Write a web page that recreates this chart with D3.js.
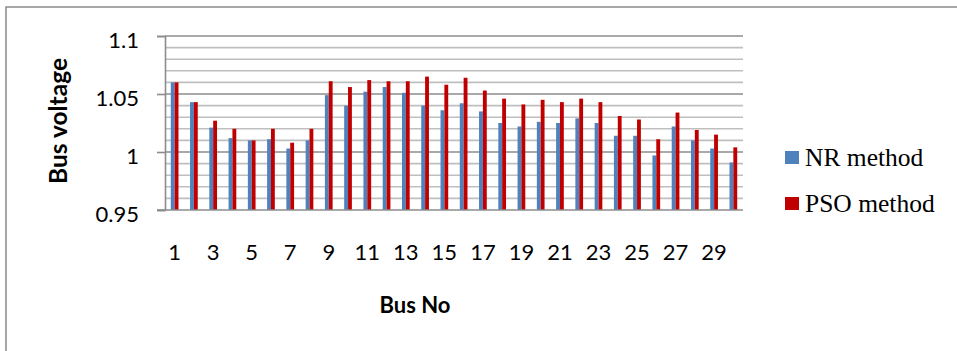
<!DOCTYPE html>
<html>
<head>
<meta charset="utf-8">
<script src="https://cdn.jsdelivr.net/npm/d3@7"></script>
<style>
  html, body { margin: 0; padding: 0; background: #ffffff; }
  svg { display: block; }
  .sans { font-family: Lato, "Open Sans", sans-serif; }
  .serif { font-family: "Liberation Serif", "DejaVu Serif", serif; }
</style>
</head>
<body>
<svg id="chart" width="957" height="351"></svg>
<script>
// Bus numbers of the 30-bus system
const buses = [1, 2, 3, 4, 5, 6, 7, 8, 9, 10, 11, 12, 13, 14, 15,
               16, 17, 18, 19, 20, 21, 22, 23, 24, 25, 26, 27, 28, 29, 30];

// Bus voltage magnitudes (p.u.) from the Newton-Raphson load flow
const nrVoltage = [1.060, 1.043, 1.021, 1.012, 1.010, 1.011, 1.003, 1.010, 1.049, 1.040,
                   1.052, 1.056, 1.051, 1.040, 1.036, 1.042, 1.035, 1.025, 1.022, 1.026,
                   1.025, 1.029, 1.025, 1.014, 1.014, 0.997, 1.022, 1.010, 1.003, 0.991];

// Bus voltage magnitudes (p.u.) after PSO optimisation
const psoVoltage = [1.060, 1.043, 1.027, 1.020, 1.010, 1.020, 1.008, 1.020, 1.061, 1.056,
                    1.062, 1.061, 1.061, 1.065, 1.058, 1.064, 1.053, 1.046, 1.041, 1.045,
                    1.043, 1.046, 1.043, 1.031, 1.028, 1.011, 1.034, 1.019, 1.015, 1.004];

const seriesNames = ["NR method", "PSO method"];
const seriesColors = ["#4f81bd", "#c00000"];

// Axis labels
const yTickValues = [0.95, 1, 1.05, 1.1];
const yTickLabels = ["0.95", "1", "1.05", "1.1"];
const xTickValues = [1, 3, 5, 7, 9, 11, 13, 15, 17, 19, 21, 23, 25, 27, 29];
const xTitle = "Bus No";
const yTitle = "Bus voltage";

const series = [nrVoltage, psoVoltage];

const svg = d3.select("#chart");

// outer chart frame
svg.append("rect")
  .attr("x", 6).attr("y", 7)
  .attr("width", 1000).attr("height", 400)
  .attr("fill", "none")
  .attr("stroke", "#8a8a8a")
  .attr("stroke-width", 1.5);

const plot = { left: 165, right: 743, top: 36, bottom: 210 };

const y = d3.scaleLinear().domain([0.95, 1.1]).range([plot.bottom, plot.top]);
const x = d3.scaleBand().domain(buses).range([plot.left, plot.right]).padding(0);

// the pair of bars sits in the middle 40% of each band
const groupWidth = x.bandwidth() * 0.4;
const xs = d3.scaleBand().domain(d3.range(series.length)).range([0, groupWidth]);

// horizontal gridlines every 0.01, darker at the labelled values
const gridValues = y.ticks(15);
const isMajor = v => yTickValues.some(t => Math.abs(t - v) < 1e-9);
svg.append("g")
  .selectAll("line")
  .data(gridValues.filter(v => v > 0.9501))
  .join("line")
  .attr("x1", plot.left)
  .attr("x2", plot.right)
  .attr("y1", d => y(d))
  .attr("y2", d => y(d))
  .attr("stroke", d => isMajor(d) ? "#8c8c8c" : "#bfbfbf")
  .attr("stroke-width", 1.6);

// bars
const groups = svg.append("g")
  .selectAll("g")
  .data(series)
  .join("g")
  .attr("fill", (d, i) => seriesColors[i]);

groups.each(function (vals, si) {
  d3.select(this).selectAll("rect")
    .data(vals.map((v, i) => ({ bus: buses[i], v })))
    .join("rect")
    .attr("x", d => x(d.bus) + (x.bandwidth() - groupWidth) / 2 + xs(si))
    .attr("width", xs.bandwidth())
    .attr("y", d => y(d.v))
    .attr("height", d => y(0.95) - y(d.v));
});

// value axis
const yAxis = svg.append("g")
  .attr("class", "sans")
  .attr("transform", `translate(${plot.left},0)`)
  .call(d3.axisLeft(y)
    .tickValues(yTickValues)
    .tickFormat((d, i) => yTickLabels[i])
    .tickSize(8)
    .tickPadding(18));
yAxis.select(".domain").attr("stroke", "#8c8c8c").attr("stroke-width", 1.6);
yAxis.selectAll(".tick line").attr("stroke", "#8c8c8c").attr("stroke-width", 1.6);
yAxis.selectAll(".tick text")
  .attr("font-size", 22)
  .attr("fill", "#000")
  .attr("dy", "0.5em");

// bottom axis line across the plot
svg.append("line")
  .attr("x1", plot.left - 8).attr("x2", plot.right)
  .attr("y1", y(0.95)).attr("y2", y(0.95))
  .attr("stroke", "#8c8c8c").attr("stroke-width", 1.6);

// category axis
const xAxis = svg.append("g")
  .attr("class", "sans")
  .attr("transform", `translate(0,${plot.bottom})`)
  .call(d3.axisBottom(x).tickValues(xTickValues).tickSize(0));
xAxis.select(".domain").remove();
xAxis.selectAll(".tick text")
  .attr("font-size", 22)
  .attr("fill", "#000")
  .attr("y", 50)
  .attr("dy", 0);

// axis titles
svg.append("text")
  .attr("class", "sans")
  .attr("x", 415).attr("y", 313)
  .attr("text-anchor", "middle")
  .attr("font-size", 22)
  .attr("font-weight", "bold")
  .text(xTitle);

svg.append("text")
  .attr("class", "sans")
  .attr("transform", "translate(67,121) rotate(-90)")
  .attr("text-anchor", "middle")
  .attr("font-size", 24.5)
  .attr("font-weight", "bold")
  .text(yTitle);

// legend
const legend = svg.append("g")
  .selectAll("g")
  .data(seriesNames)
  .join("g")
  .attr("transform", (d, i) => `translate(785,${151 + i * 46})`);
legend.append("rect")
  .attr("width", 14).attr("height", 13)
  .attr("fill", (d, i) => seriesColors[i]);
legend.append("text")
  .attr("class", "serif")
  .attr("x", 20).attr("y", 15)
  .attr("font-size", 25.5)
  .attr("fill", "#000")
  .text(d => d);
</script>
</body>
</html>
